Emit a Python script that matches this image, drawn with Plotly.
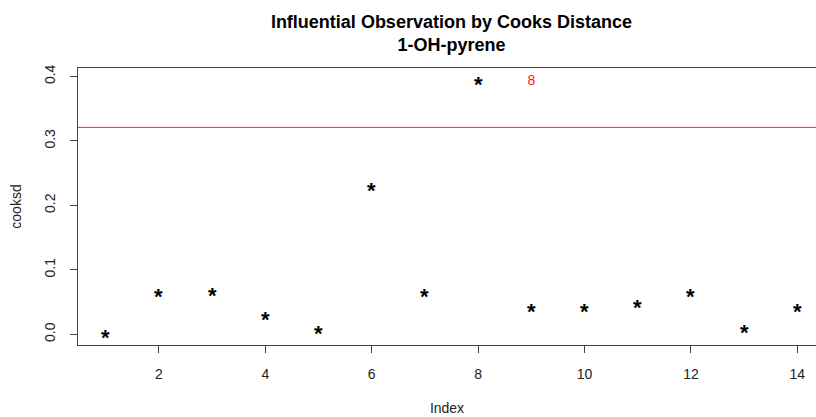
import plotly.graph_objects as go

# Cook's distance per observation
index = list(range(1, 15))
cooksd = [0.000, 0.064, 0.065, 0.027, 0.006, 0.227, 0.064,
          0.392, 0.040, 0.040, 0.046, 0.064, 0.007, 0.040]
cutoff = 0.321

# observations above the cutoff get labelled
influential = [i for i, d in zip(index, cooksd) if d > cutoff]
influential_d = [d for d in cooksd if d > cutoff]

x_ticks = [2, 4, 6, 8, 10, 12, 14]
y_ticks = [0.0, 0.1, 0.2, 0.3, 0.4]
y_tick_text = ["0.0", "0.1", "0.2", "0.3", "0.4"]

FONT = "Liberation Sans, Arial, sans-serif"
AXIS = "#444444"

fig = go.Figure()

# invisible points carry the hover info; the "*" glyphs are drawn as
# annotations so the glyph can be centred on the value
fig.add_trace(go.Scatter(
    x=index, y=cooksd, mode="markers",
    marker=dict(size=10, color="rgba(0,0,0,0)"),
    hoverinfo="x+y", showlegend=False,
))
for i, d in zip(index, cooksd):
    fig.add_annotation(
        x=i, y=d, xref="x", yref="y", text="<b>*</b>", showarrow=False,
        xanchor="center", yanchor="middle", yshift=-3,
        font=dict(family=FONT, size=22, color="black"),
    )

fig.add_trace(go.Scatter(
    x=[i + 1 for i in influential], y=influential_d, mode="text",
    text=[str(i) for i in influential], textposition="middle center",
    textfont=dict(family=FONT, size=14, color="#ff2020"),
    showlegend=False,
))

fig.add_shape(type="line", xref="paper", x0=0, x1=1, yref="y",
              y0=cutoff, y1=cutoff, line=dict(color="#ff2020", width=1))

fig.update_layout(
    width=816, height=417,
    margin=dict(l=78, r=0, t=68, b=72),
    paper_bgcolor="white", plot_bgcolor="white",
    font=dict(family=FONT, size=14, color="#222222"),
    title=dict(
        text="<b>Influential Observation by Cooks Distance<br>1-OH-pyrene</b>",
        x=0.506, xanchor="center", xref="paper",
        y=0.933, yanchor="middle",
        font=dict(family=FONT, size=18, color="black"),
    ),
    xaxis=dict(
        range=[0.48, 14.351], tickvals=x_ticks, ticks="outside",
        ticklen=7, tickcolor=AXIS, showline=True, linecolor=AXIS,
        linewidth=1, mirror=True, showgrid=False, zeroline=False,
        ticklabelstandoff=9,
        tickfont=dict(size=14, color="#222222"),
        title=dict(text="Index", standoff=22, font=dict(size=14)),
    ),
    yaxis=dict(
        range=[-0.0166, 0.4131], tickvals=y_ticks, ticktext=y_tick_text,
        ticks="outside", ticklen=7, tickcolor=AXIS, tickangle=-90,
        showline=True, linecolor=AXIS, linewidth=1, showgrid=False,
        zeroline=False, ticklabelstandoff=9,
        tickfont=dict(size=14, color="#222222"),
        title=dict(text="cooksd", standoff=17, font=dict(size=14)),
    ),
)

fig.write_html("out.html")
